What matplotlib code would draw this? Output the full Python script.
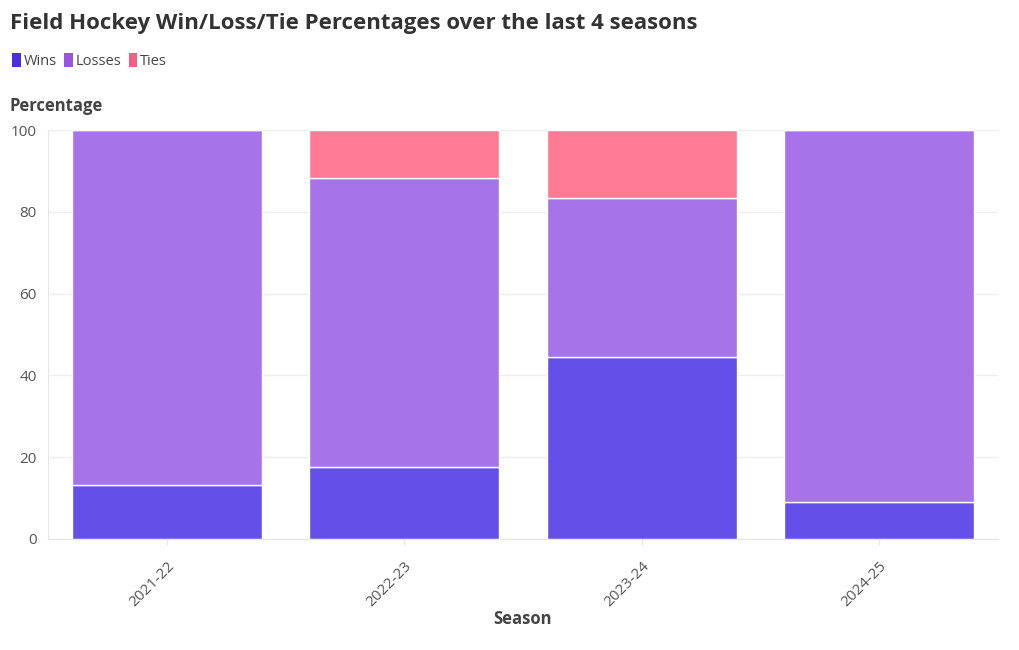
import matplotlib.pyplot as plt
from matplotlib.patches import Patch

seasons = ['2021-22', '2022-23', '2023-24', '2024-25']
wins = [13.3, 17.6, 44.4, 9.1]
losses = [86.7, 70.6, 38.9, 90.9]
ties = [0.0, 11.8, 16.7, 0.0]

c_wins = '#6450E8'
c_losses = '#A674E8'
c_ties = '#FF7B95'

plt.rcParams['font.family'] = ['Open Sans', 'DejaVu Sans']

fig = plt.figure(figsize=(10.2, 6.5), dpi=100)
ax = fig.add_axes([48 / 1020, 1 - 539 / 650, 950 / 1020, 409 / 650])

x = range(len(seasons))
ax.bar(x, wins, width=0.8, color=c_wins, edgecolor='white', linewidth=1, zorder=2)
ax.bar(x, losses, width=0.8, bottom=wins, color=c_losses, edgecolor='white', linewidth=1, zorder=2)
bottom2 = [w + l for w, l in zip(wins, losses)]
ax.bar(x, ties, width=0.8, bottom=bottom2, color=c_ties, edgecolor='white', linewidth=1, zorder=2)

ax.set_xlim(-0.5, len(seasons) - 0.5)
ax.set_ylim(0, 100)
ax.set_yticks([0, 20, 40, 60, 80, 100])
ax.set_xticks(list(x))
ax.set_xticklabels(seasons, rotation=45, ha='right', rotation_mode='anchor')
ax.tick_params(axis='both', colors='#555555', labelsize=11, length=0, pad=8)
ax.tick_params(axis='x', length=4, color='#e6e6e6', pad=10)
ax.grid(axis='y', color='#eeeeee', linewidth=1, zorder=0)
for s in ['top', 'right']:
    ax.spines[s].set_visible(False)
for s in ['left', 'bottom']:
    ax.spines[s].set_color('#e6e6e6')

fig.text(10 / 1020, 1 - 24 / 650, 'Field Hockey Win/Loss/Tie Percentages over the last 4 seasons',
         fontsize=16, fontweight='bold', color='#333333', va='center', ha='left')
fig.text(10 / 1020, 1 - 106 / 650, 'Percentage', fontsize=12, fontweight='bold',
         color='#444444', va='center', ha='left')
fig.text(523 / 1020, 1 - 619 / 650, 'Season', fontsize=12, fontweight='bold',
         color='#444444', va='center', ha='center')

handles = [Patch(facecolor='#4A2FE0', label='Wins'),
           Patch(facecolor='#9A55E0', label='Losses'),
           Patch(facecolor='#F45F84', label='Ties')]
leg = fig.legend(handles=handles, loc='center left', bbox_to_anchor=(6 / 1020, 1 - 61 / 650),
                 ncol=3, frameon=False, fontsize=10.5, handlelength=0.6, handleheight=1.1,
                 handletextpad=0.2, columnspacing=0.5, borderaxespad=0)
for t in leg.get_texts():
    t.set_color('#444444')

fig.savefig('out.png', dpi=100)
